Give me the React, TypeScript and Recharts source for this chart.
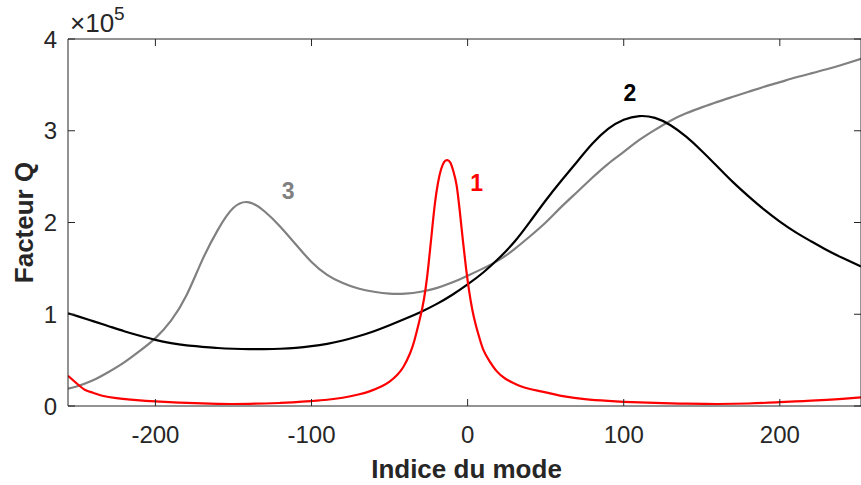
import React from 'react';
import { LineChart, Line, XAxis, YAxis, ReferenceDot } from 'recharts';

// Tick values (Q in units of 1e5)
const xTicks = [-200, -100, 0, 100, 200];
const yTicks = [0, 1, 2, 3, 4];

// Mode 1 (red)
const mode1X = [-256, -250, -245, -240, -234, -225, -212, -200, -185, -170, -160, -150, -130, -120, -110, -100, -90, -80, -70, -62, -55, -50, -45, -41, -37, -34, -31, -29, -27, -25, -23, -21, -19, -17, -15, -13, -11, -9, -7, -5, -3, -1, 1, 3, 5, 7, 10, 14, 18.6, 24, 30, 34, 40, 47, 55, 62, 75, 90, 100, 120, 140, 160, 180, 200, 215, 230, 240, 252];
const mode1Q = [0.33, 0.24, 0.175, 0.145, 0.112, 0.085, 0.064, 0.05, 0.037, 0.028, 0.024, 0.022, 0.027, 0.033, 0.042, 0.054, 0.068, 0.09, 0.125, 0.165, 0.215, 0.265, 0.34, 0.43, 0.57, 0.72, 0.92, 1.07, 1.27, 1.55, 1.88, 2.2, 2.43, 2.58, 2.66, 2.68, 2.65, 2.55, 2.4, 2.12, 1.8, 1.5, 1.25, 1.05, 0.9, 0.775, 0.615, 0.49, 0.38, 0.3, 0.245, 0.215, 0.185, 0.16, 0.13, 0.105, 0.075, 0.055, 0.046, 0.033, 0.025, 0.022, 0.027, 0.042, 0.054, 0.067, 0.078, 0.095];

// Mode 2 (black)
const mode2X = [-256, -250, -240, -230, -220, -210, -200, -190, -180, -170, -160, -150, -140, -130, -120, -110, -100, -90, -80, -70, -60, -50, -40, -30, -20, -10, 0, 10, 20, 30, 40, 50, 60, 70, 80, 90, 100, 110, 120, 130, 140, 150, 160, 170, 180, 190, 200, 210, 220, 230, 240, 252];
const mode2Q = [1.01, 0.98, 0.925, 0.87, 0.815, 0.765, 0.72, 0.685, 0.66, 0.645, 0.632, 0.624, 0.62, 0.62, 0.624, 0.634, 0.652, 0.678, 0.714, 0.76, 0.815, 0.88, 0.95, 1.025, 1.11, 1.21, 1.325, 1.455, 1.61, 1.79, 2.01, 2.24, 2.455, 2.66, 2.86, 3.02, 3.12, 3.16, 3.14, 3.06, 2.935, 2.78, 2.61, 2.44, 2.285, 2.14, 2.01, 1.895, 1.795, 1.7, 1.615, 1.52];

// Mode 3 (gray)
const mode3X = [-256, -250, -240, -230, -220, -210, -200, -190, -180, -170, -160, -150, -140, -130, -120, -110, -100, -90, -80, -70, -60, -50, -40, -30, -20, -10, 0, 10, 20, 30, 40, 50, 60, 70, 80, 90, 100, 110, 120, 130, 140, 150, 160, 170, 180, 190, 200, 210, 220, 230, 240, 252];
const mode3Q = [0.19, 0.215, 0.28, 0.37, 0.475, 0.6, 0.74, 0.93, 1.21, 1.59, 1.92, 2.16, 2.22, 2.12, 1.955, 1.76, 1.57, 1.43, 1.34, 1.28, 1.245, 1.225, 1.225, 1.245, 1.285, 1.345, 1.42, 1.5, 1.59, 1.71, 1.85, 2.0, 2.17, 2.33, 2.49, 2.64, 2.77, 2.9, 3.01, 3.11, 3.19, 3.255, 3.315, 3.37, 3.425, 3.48, 3.53, 3.58, 3.625, 3.67, 3.72, 3.785];

// Curve labels
const curveLabels = [
  { text: '1', x: 5.8, q: 2.43, color: '#ff0000' },
  { text: '2', x: 104, q: 3.41, color: '#000000' },
  { text: '3', x: -115, q: 2.35, color: '#808080' },
];

const toRows = (xs: number[], qs: number[]) => xs.map((x, i) => ({ x, q: qs[i] }));

const FONT = '"Liberation Sans", Arial, Helvetica, sans-serif';
const AXIS = '#262626';
const LW = 2.2;

export default function App() {
  return (
    <div style={{ position: 'absolute', left: 0, top: 0, width: 861, height: 485, background: '#fff', fontFamily: FONT }}>
      <LineChart width={861} height={485} margin={{ top: 39, right: 0, bottom: 0, left: 0 }}>
        <XAxis
          xAxisId="b"
          dataKey="x"
          type="number"
          domain={[-256, 252]}
          ticks={xTicks}
          allowDataOverflow
          height={79}
          stroke={AXIS}
          tickSize={-7}
          tickMargin={27}
          tick={{ fill: AXIS, fontSize: 24, fontFamily: FONT }}
          label={{
            content: (props: any) => {
              const vb = props.viewBox || {};
              return (
                <text x={(vb.x ?? 68) + (vb.width ?? 793) / 2 + 2} y={478} textAnchor="middle" fontFamily={FONT} fontSize={26} fontWeight="bold" fill={AXIS}>
                  Indice du mode
                </text>
              );
            },
          }}
        />
        <XAxis
          xAxisId="t"
          orientation="top"
          mirror
          dataKey="x"
          type="number"
          domain={[-256, 252]}
          ticks={xTicks}
          allowDataOverflow
          stroke={AXIS}
          tickSize={7}
          tickFormatter={() => ''}
        />
        <YAxis
          yAxisId="l"
          type="number"
          domain={[0, 4]}
          ticks={yTicks}
          allowDataOverflow
          width={68}
          stroke={AXIS}
          tickSize={-7}
          tickMargin={18}
          tick={{ fill: AXIS, fontSize: 24, fontFamily: FONT }}
          label={{
            content: () => (
              <text transform="translate(33,222.5) rotate(-90)" textAnchor="middle" fontFamily={FONT} fontSize={26} fontWeight="bold" fill={AXIS}>
                Facteur Q
              </text>
            ),
          }}
        />
        <YAxis
          yAxisId="r"
          orientation="right"
          mirror
          type="number"
          domain={[0, 4]}
          ticks={yTicks}
          allowDataOverflow
          stroke={AXIS}
          tickSize={7}
          tickFormatter={() => ''}
        />
        <Line xAxisId="b" yAxisId="l" data={toRows(mode3X, mode3Q)} dataKey="q" type="natural" stroke="#808080" strokeWidth={LW} dot={false} isAnimationActive={false} />
        <Line xAxisId="b" yAxisId="l" data={toRows(mode2X, mode2Q)} dataKey="q" type="natural" stroke="#000000" strokeWidth={LW} dot={false} isAnimationActive={false} />
        <Line xAxisId="b" yAxisId="l" data={toRows(mode1X, mode1Q)} dataKey="q" type="natural" stroke="#ff0000" strokeWidth={LW} dot={false} isAnimationActive={false} />
        {curveLabels.map((c) => (
          <ReferenceDot
            key={c.text}
            xAxisId="b"
            yAxisId="l"
            x={c.x}
            y={c.q}
            r={0}
            fill="none"
            stroke="none"
            ifOverflow="visible"
            label={{ value: c.text, position: 'center', fill: c.color, fontSize: 23, fontWeight: 'bold', fontFamily: FONT }}
          />
        ))}
        <ReferenceDot
          xAxisId="b"
          yAxisId="l"
          x={-256}
          y={4}
          r={0}
          fill="none"
          stroke="none"
          ifOverflow="visible"
          label={{
            content: (props: any) => {
              const vb = props.viewBox || { x: 68, y: 39 };
              return (
                <text x={vb.x + 2} y={vb.y - 7} fontFamily={FONT} fontSize={26} fill={AXIS}>
                  ×10
                  <tspan fontSize={19} dy={-12}>5</tspan>
                </text>
              );
            },
          }}
        />
      </LineChart>
    </div>
  );
}
